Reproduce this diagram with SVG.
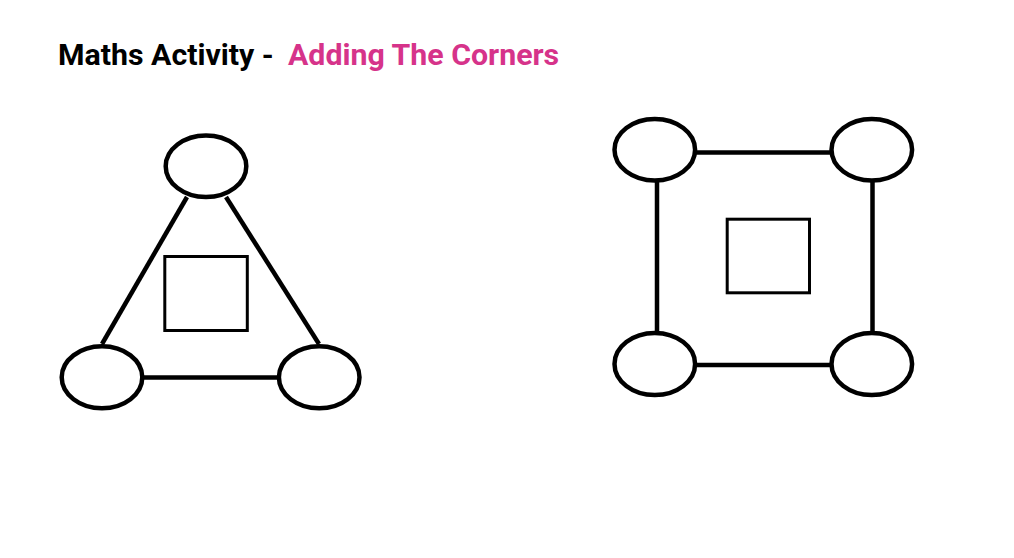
<svg xmlns="http://www.w3.org/2000/svg" width="1014" height="558" viewBox="0 0 1014 558">
  <style>
    .title { font-family: Roboto, "Liberation Sans", sans-serif; font-weight: bold; font-size: 30.3px; }
    .node { fill: #ffffff; stroke: #000000; stroke-width: 4.5; }
    .box { fill: none; stroke: #000000; stroke-width: 3; }
    .edge { stroke: #000000; stroke-width: 4.5; fill: none; }
  </style>
  <rect x="0" y="0" width="1014" height="558" fill="#ffffff"/>
  <text class="title" x="58" y="65" fill="#000000">Maths Activity -</text>
  <text class="title" x="288" y="65" fill="#d6338a">Adding The Corners</text>

  <g id="connectors">
    <line class="edge" x1="187" y1="197" x2="102" y2="344"/>
    <line class="edge" x1="226" y1="197" x2="319" y2="344"/>
    <line class="edge" x1="143" y1="377.5" x2="278" y2="377.5"/>
    <line class="edge" x1="696" y1="152.5" x2="830" y2="152.5"/>
    <line class="edge" x1="696" y1="365" x2="830" y2="365"/>
    <line class="edge" x1="657" y1="182" x2="657" y2="332"/>
    <line class="edge" x1="872.5" y1="182" x2="872.5" y2="332"/>
  </g>

  <g id="tri-top"><ellipse class="node" cx="206" cy="166.3" rx="40.3" ry="30.8"/></g>
  <g id="tri-left"><ellipse class="node" cx="102" cy="377.3" rx="40.3" ry="31"/></g>
  <g id="tri-right"><ellipse class="node" cx="319.2" cy="377.3" rx="40.3" ry="31"/></g>
  <g id="tri-box"><rect class="box" x="164.8" y="256.5" width="82.5" height="74"/></g>

  <g id="sq-tl"><ellipse class="node" cx="654.8" cy="149.7" rx="40.3" ry="30.8"/></g>
  <g id="sq-tr"><ellipse class="node" cx="871.8" cy="149.7" rx="40.3" ry="30.8"/></g>
  <g id="sq-bl"><ellipse class="node" cx="654.8" cy="364" rx="40.3" ry="31"/></g>
  <g id="sq-br"><ellipse class="node" cx="871.8" cy="364" rx="40.3" ry="31"/></g>
  <g id="sq-box"><rect class="box" x="727.2" y="219.2" width="82.3" height="73.6"/></g>
</svg>
